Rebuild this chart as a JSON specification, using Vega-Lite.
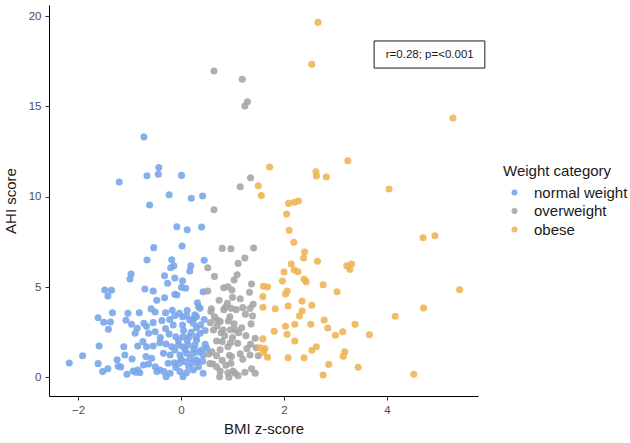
{
  "$schema": "https://vega.github.io/schema/vega-lite/v6.json",
  "width": 429,
  "height": 391,
  "autosize": {"type": "none"},
  "padding": {"left": 49, "top": 5, "right": 152, "bottom": 47},
  "background": "white",
  "config": {
    "view": {"stroke": null},
    "font": "Liberation Sans",
    "axis": {
      "grid": false,
      "domainColor": "#000000",
      "domainWidth": 1,
      "tickColor": "#333333",
      "tickSize": 4,
      "labelFont": "Liberation Sans",
      "labelFontSize": 11.5,
      "labelColor": "#4d4d4d",
      "titleFont": "Liberation Sans",
      "titleFontSize": 15,
      "titleFontWeight": "normal",
      "titleColor": "#1a1a1a"
    },
    "legend": {
      "titleFont": "Liberation Sans",
      "titleFontSize": 15,
      "titleFontWeight": "normal",
      "titleColor": "#1a1a1a",
      "labelFont": "Liberation Sans",
      "labelFontSize": 15,
      "labelColor": "#1a1a1a"
    }
  },
  "datasets": {
    "children": [
      {"weight_category": "normal weight", "bmi_z": -0.72, "ahi": 13.31},
      {"weight_category": "normal weight", "bmi_z": -0.43, "ahi": 11.61},
      {"weight_category": "normal weight", "bmi_z": -0.66, "ahi": 11.16},
      {"weight_category": "normal weight", "bmi_z": -0.44, "ahi": 11.24},
      {"weight_category": "normal weight", "bmi_z": 0.01, "ahi": 11.18},
      {"weight_category": "normal weight", "bmi_z": -1.20, "ahi": 10.81},
      {"weight_category": "normal weight", "bmi_z": -0.23, "ahi": 10.11},
      {"weight_category": "normal weight", "bmi_z": 0.20, "ahi": 9.91},
      {"weight_category": "normal weight", "bmi_z": 0.42, "ahi": 10.04},
      {"weight_category": "normal weight", "bmi_z": -0.61, "ahi": 9.54},
      {"weight_category": "normal weight", "bmi_z": -0.08, "ahi": 8.34},
      {"weight_category": "normal weight", "bmi_z": 0.12, "ahi": 8.17},
      {"weight_category": "normal weight", "bmi_z": 0.40, "ahi": 8.32},
      {"weight_category": "normal weight", "bmi_z": -0.53, "ahi": 7.18},
      {"weight_category": "normal weight", "bmi_z": 0.02, "ahi": 7.27},
      {"weight_category": "normal weight", "bmi_z": -0.66, "ahi": 6.50},
      {"weight_category": "normal weight", "bmi_z": -0.18, "ahi": 6.51},
      {"weight_category": "normal weight", "bmi_z": 0.45, "ahi": 6.48},
      {"weight_category": "normal weight", "bmi_z": -0.14, "ahi": 6.17},
      {"weight_category": "normal weight", "bmi_z": -0.20, "ahi": 6.07},
      {"weight_category": "normal weight", "bmi_z": 0.19, "ahi": 6.17},
      {"weight_category": "normal weight", "bmi_z": 0.17, "ahi": 5.89},
      {"weight_category": "normal weight", "bmi_z": -0.32, "ahi": 5.63},
      {"weight_category": "normal weight", "bmi_z": -0.12, "ahi": 5.50},
      {"weight_category": "normal weight", "bmi_z": -0.26, "ahi": 5.21},
      {"weight_category": "normal weight", "bmi_z": 0.03, "ahi": 5.35},
      {"weight_category": "normal weight", "bmi_z": -0.97, "ahi": 5.72},
      {"weight_category": "normal weight", "bmi_z": -0.99, "ahi": 5.45},
      {"weight_category": "normal weight", "bmi_z": -1.48, "ahi": 4.84},
      {"weight_category": "normal weight", "bmi_z": -1.35, "ahi": 4.82},
      {"weight_category": "normal weight", "bmi_z": -1.42, "ahi": 4.50},
      {"weight_category": "normal weight", "bmi_z": -0.70, "ahi": 4.89},
      {"weight_category": "normal weight", "bmi_z": -0.54, "ahi": 4.78},
      {"weight_category": "normal weight", "bmi_z": 0.01, "ahi": 4.99},
      {"weight_category": "normal weight", "bmi_z": 0.09, "ahi": 4.93},
      {"weight_category": "normal weight", "bmi_z": -0.12, "ahi": 4.60},
      {"weight_category": "normal weight", "bmi_z": -0.08, "ahi": 4.56},
      {"weight_category": "normal weight", "bmi_z": -0.47, "ahi": 4.27},
      {"weight_category": "normal weight", "bmi_z": -0.32, "ahi": 4.41},
      {"weight_category": "normal weight", "bmi_z": 0.32, "ahi": 4.13},
      {"weight_category": "normal weight", "bmi_z": 0.43, "ahi": 4.74},
      {"weight_category": "normal weight", "bmi_z": 0.34, "ahi": 3.91},
      {"weight_category": "normal weight", "bmi_z": -0.58, "ahi": 3.79},
      {"weight_category": "normal weight", "bmi_z": -0.50, "ahi": 3.62},
      {"weight_category": "normal weight", "bmi_z": -0.30, "ahi": 3.58},
      {"weight_category": "normal weight", "bmi_z": -0.17, "ahi": 3.71},
      {"weight_category": "normal weight", "bmi_z": -0.12, "ahi": 3.41},
      {"weight_category": "normal weight", "bmi_z": -0.03, "ahi": 3.55},
      {"weight_category": "normal weight", "bmi_z": 0.03, "ahi": 3.36},
      {"weight_category": "normal weight", "bmi_z": 0.11, "ahi": 3.40},
      {"weight_category": "normal weight", "bmi_z": 0.17, "ahi": 3.18},
      {"weight_category": "normal weight", "bmi_z": 0.25, "ahi": 3.27},
      {"weight_category": "normal weight", "bmi_z": 0.30, "ahi": 3.36},
      {"weight_category": "normal weight", "bmi_z": -0.81, "ahi": 3.58},
      {"weight_category": "normal weight", "bmi_z": -1.03, "ahi": 3.55},
      {"weight_category": "normal weight", "bmi_z": -1.33, "ahi": 3.58},
      {"weight_category": "normal weight", "bmi_z": -1.61, "ahi": 3.30},
      {"weight_category": "normal weight", "bmi_z": -1.50, "ahi": 3.05},
      {"weight_category": "normal weight", "bmi_z": -1.37, "ahi": 3.07},
      {"weight_category": "normal weight", "bmi_z": -1.07, "ahi": 3.16},
      {"weight_category": "normal weight", "bmi_z": -0.96, "ahi": 2.94},
      {"weight_category": "normal weight", "bmi_z": -1.41, "ahi": 2.66},
      {"weight_category": "normal weight", "bmi_z": -0.89, "ahi": 2.44},
      {"weight_category": "normal weight", "bmi_z": -0.85, "ahi": 2.72},
      {"weight_category": "normal weight", "bmi_z": -0.72, "ahi": 2.99},
      {"weight_category": "normal weight", "bmi_z": -0.67, "ahi": 2.83},
      {"weight_category": "normal weight", "bmi_z": -0.54, "ahi": 3.03},
      {"weight_category": "normal weight", "bmi_z": -0.37, "ahi": 3.14},
      {"weight_category": "normal weight", "bmi_z": -0.63, "ahi": 2.44},
      {"weight_category": "normal weight", "bmi_z": -0.50, "ahi": 2.53},
      {"weight_category": "normal weight", "bmi_z": 0.03, "ahi": 2.90},
      {"weight_category": "normal weight", "bmi_z": 0.24, "ahi": 2.99},
      {"weight_category": "normal weight", "bmi_z": 0.30, "ahi": 2.75},
      {"weight_category": "normal weight", "bmi_z": -0.23, "ahi": 2.40},
      {"weight_category": "normal weight", "bmi_z": -0.10, "ahi": 2.25},
      {"weight_category": "normal weight", "bmi_z": 0.04, "ahi": 2.25},
      {"weight_category": "normal weight", "bmi_z": 0.16, "ahi": 2.25},
      {"weight_category": "normal weight", "bmi_z": 0.30, "ahi": 2.25},
      {"weight_category": "normal weight", "bmi_z": 0.37, "ahi": 2.44},
      {"weight_category": "normal weight", "bmi_z": -1.59, "ahi": 1.74},
      {"weight_category": "normal weight", "bmi_z": -1.11, "ahi": 1.70},
      {"weight_category": "normal weight", "bmi_z": -0.84, "ahi": 1.74},
      {"weight_category": "normal weight", "bmi_z": -0.74, "ahi": 1.98},
      {"weight_category": "normal weight", "bmi_z": -0.67, "ahi": 1.70},
      {"weight_category": "normal weight", "bmi_z": -0.54, "ahi": 1.74},
      {"weight_category": "normal weight", "bmi_z": -0.41, "ahi": 1.92},
      {"weight_category": "normal weight", "bmi_z": -0.29, "ahi": 1.85},
      {"weight_category": "normal weight", "bmi_z": -0.18, "ahi": 1.70},
      {"weight_category": "normal weight", "bmi_z": -0.05, "ahi": 1.79},
      {"weight_category": "normal weight", "bmi_z": 0.04, "ahi": 1.70},
      {"weight_category": "normal weight", "bmi_z": 0.14, "ahi": 1.79},
      {"weight_category": "normal weight", "bmi_z": 0.27, "ahi": 1.79},
      {"weight_category": "normal weight", "bmi_z": 0.47, "ahi": 1.83},
      {"weight_category": "normal weight", "bmi_z": 0.40, "ahi": 1.52},
      {"weight_category": "normal weight", "bmi_z": -1.91, "ahi": 1.20},
      {"weight_category": "normal weight", "bmi_z": -1.09, "ahi": 1.24},
      {"weight_category": "normal weight", "bmi_z": -2.17, "ahi": 0.80},
      {"weight_category": "normal weight", "bmi_z": -1.61, "ahi": 0.76},
      {"weight_category": "normal weight", "bmi_z": -1.24, "ahi": 0.98},
      {"weight_category": "normal weight", "bmi_z": -0.95, "ahi": 1.02},
      {"weight_category": "normal weight", "bmi_z": -1.22, "ahi": 0.61},
      {"weight_category": "normal weight", "bmi_z": -1.17, "ahi": 0.58},
      {"weight_category": "normal weight", "bmi_z": -1.42, "ahi": 0.48},
      {"weight_category": "normal weight", "bmi_z": -1.52, "ahi": 0.32},
      {"weight_category": "normal weight", "bmi_z": -0.93, "ahi": 0.35},
      {"weight_category": "normal weight", "bmi_z": -0.88, "ahi": 0.28},
      {"weight_category": "normal weight", "bmi_z": -1.05, "ahi": 0.17},
      {"weight_category": "normal weight", "bmi_z": -0.80, "ahi": 0.26},
      {"weight_category": "normal weight", "bmi_z": -0.73, "ahi": 0.69},
      {"weight_category": "normal weight", "bmi_z": -0.63, "ahi": 0.74},
      {"weight_category": "normal weight", "bmi_z": -0.57, "ahi": 1.06},
      {"weight_category": "normal weight", "bmi_z": -0.68, "ahi": 1.15},
      {"weight_category": "normal weight", "bmi_z": -0.50, "ahi": 0.59},
      {"weight_category": "normal weight", "bmi_z": -0.41, "ahi": 0.41},
      {"weight_category": "normal weight", "bmi_z": -0.47, "ahi": 0.32},
      {"weight_category": "normal weight", "bmi_z": -0.34, "ahi": 1.33},
      {"weight_category": "normal weight", "bmi_z": -0.21, "ahi": 1.24},
      {"weight_category": "normal weight", "bmi_z": -0.12, "ahi": 1.52},
      {"weight_category": "normal weight", "bmi_z": -0.02, "ahi": 1.24},
      {"weight_category": "normal weight", "bmi_z": 0.11, "ahi": 1.33},
      {"weight_category": "normal weight", "bmi_z": 0.24, "ahi": 1.33},
      {"weight_category": "normal weight", "bmi_z": -0.25, "ahi": 0.78},
      {"weight_category": "normal weight", "bmi_z": -0.13, "ahi": 0.81},
      {"weight_category": "normal weight", "bmi_z": -0.03, "ahi": 0.78},
      {"weight_category": "normal weight", "bmi_z": 0.08, "ahi": 0.87},
      {"weight_category": "normal weight", "bmi_z": 0.21, "ahi": 0.78},
      {"weight_category": "normal weight", "bmi_z": 0.32, "ahi": 0.87},
      {"weight_category": "normal weight", "bmi_z": -0.33, "ahi": 0.32},
      {"weight_category": "normal weight", "bmi_z": -0.29, "ahi": 0.04},
      {"weight_category": "normal weight", "bmi_z": -0.21, "ahi": 0.23},
      {"weight_category": "normal weight", "bmi_z": -0.02, "ahi": 0.32},
      {"weight_category": "normal weight", "bmi_z": 0.04, "ahi": 0.04},
      {"weight_category": "normal weight", "bmi_z": 0.11, "ahi": 0.26},
      {"weight_category": "normal weight", "bmi_z": 0.24, "ahi": 0.41},
      {"weight_category": "normal weight", "bmi_z": 0.43, "ahi": 0.23},
      {"weight_category": "normal weight", "bmi_z": 0.34, "ahi": 0.59},
      {"weight_category": "normal weight", "bmi_z": 0.43, "ahi": 1.24},
      {"weight_category": "normal weight", "bmi_z": 0.34, "ahi": 1.40},
      {"weight_category": "normal weight", "bmi_z": -0.84, "ahi": 0.41},
      {"weight_category": "normal weight", "bmi_z": 0.27, "ahi": 3.46},
      {"weight_category": "normal weight", "bmi_z": 0.37, "ahi": 3.82},
      {"weight_category": "normal weight", "bmi_z": 0.50, "ahi": 1.61},
      {"weight_category": "normal weight", "bmi_z": 0.30, "ahi": 0.96},
      {"weight_category": "normal weight", "bmi_z": 0.05, "ahi": 2.60},
      {"weight_category": "normal weight", "bmi_z": 0.20, "ahi": 2.50},
      {"weight_category": "normal weight", "bmi_z": 0.12, "ahi": 2.05},
      {"weight_category": "normal weight", "bmi_z": -0.05, "ahi": 2.05},
      {"weight_category": "normal weight", "bmi_z": 0.30, "ahi": 2.05},
      {"weight_category": "normal weight", "bmi_z": 0.38, "ahi": 2.90},
      {"weight_category": "normal weight", "bmi_z": 0.45, "ahi": 3.20},
      {"weight_category": "normal weight", "bmi_z": -0.15, "ahi": 2.90},
      {"weight_category": "normal weight", "bmi_z": 0.18, "ahi": 1.05},
      {"weight_category": "normal weight", "bmi_z": 0.00, "ahi": 1.00},
      {"weight_category": "normal weight", "bmi_z": -0.10, "ahi": 0.55},
      {"weight_category": "normal weight", "bmi_z": 0.15, "ahi": 0.60},
      {"weight_category": "normal weight", "bmi_z": 0.42, "ahi": 0.90},
      {"weight_category": "normal weight", "bmi_z": 0.08, "ahi": 1.55},
      {"weight_category": "normal weight", "bmi_z": 0.25, "ahi": 1.55},
      {"weight_category": "normal weight", "bmi_z": -0.30, "ahi": 2.70},
      {"weight_category": "normal weight", "bmi_z": -0.40, "ahi": 2.20},
      {"weight_category": "normal weight", "bmi_z": 0.47, "ahi": 2.60},
      {"weight_category": "normal weight", "bmi_z": 0.12, "ahi": 3.70},
      {"weight_category": "normal weight", "bmi_z": -0.22, "ahi": 3.20},
      {"weight_category": "overweight", "bmi_z": 0.64, "ahi": 16.96},
      {"weight_category": "overweight", "bmi_z": 1.19, "ahi": 16.50},
      {"weight_category": "overweight", "bmi_z": 1.29, "ahi": 15.26},
      {"weight_category": "overweight", "bmi_z": 1.24, "ahi": 15.02},
      {"weight_category": "overweight", "bmi_z": 1.35, "ahi": 11.05},
      {"weight_category": "overweight", "bmi_z": 1.15, "ahi": 10.55},
      {"weight_category": "overweight", "bmi_z": 0.64, "ahi": 9.28},
      {"weight_category": "overweight", "bmi_z": 0.80, "ahi": 7.14},
      {"weight_category": "overweight", "bmi_z": 0.97, "ahi": 7.12},
      {"weight_category": "overweight", "bmi_z": 1.41, "ahi": 7.16},
      {"weight_category": "overweight", "bmi_z": 1.24, "ahi": 6.61},
      {"weight_category": "overweight", "bmi_z": 1.11, "ahi": 6.31},
      {"weight_category": "overweight", "bmi_z": 0.52, "ahi": 6.07},
      {"weight_category": "overweight", "bmi_z": 0.65, "ahi": 5.59},
      {"weight_category": "overweight", "bmi_z": 1.09, "ahi": 5.68},
      {"weight_category": "overweight", "bmi_z": 1.03, "ahi": 5.39},
      {"weight_category": "overweight", "bmi_z": 1.37, "ahi": 5.17},
      {"weight_category": "overweight", "bmi_z": 0.83, "ahi": 4.96},
      {"weight_category": "overweight", "bmi_z": 0.91, "ahi": 5.02},
      {"weight_category": "overweight", "bmi_z": 0.99, "ahi": 4.84},
      {"weight_category": "overweight", "bmi_z": 0.52, "ahi": 4.78},
      {"weight_category": "overweight", "bmi_z": 1.33, "ahi": 4.71},
      {"weight_category": "overweight", "bmi_z": 1.00, "ahi": 4.43},
      {"weight_category": "overweight", "bmi_z": 0.74, "ahi": 4.27},
      {"weight_category": "overweight", "bmi_z": 1.40, "ahi": 4.05},
      {"weight_category": "overweight", "bmi_z": 0.59, "ahi": 3.80},
      {"weight_category": "overweight", "bmi_z": 0.58, "ahi": 3.64},
      {"weight_category": "overweight", "bmi_z": 0.83, "ahi": 3.75},
      {"weight_category": "overweight", "bmi_z": 0.86, "ahi": 3.88},
      {"weight_category": "overweight", "bmi_z": 0.97, "ahi": 3.82},
      {"weight_category": "overweight", "bmi_z": 1.07, "ahi": 3.75},
      {"weight_category": "overweight", "bmi_z": 1.20, "ahi": 3.86},
      {"weight_category": "overweight", "bmi_z": 1.34, "ahi": 3.82},
      {"weight_category": "overweight", "bmi_z": 0.70, "ahi": 3.19},
      {"weight_category": "overweight", "bmi_z": 0.76, "ahi": 3.10},
      {"weight_category": "overweight", "bmi_z": 0.57, "ahi": 3.03},
      {"weight_category": "overweight", "bmi_z": 0.95, "ahi": 3.36},
      {"weight_category": "overweight", "bmi_z": 1.03, "ahi": 2.97},
      {"weight_category": "overweight", "bmi_z": 1.36, "ahi": 2.96},
      {"weight_category": "overweight", "bmi_z": 1.39, "ahi": 3.40},
      {"weight_category": "overweight", "bmi_z": 0.92, "ahi": 3.12},
      {"weight_category": "overweight", "bmi_z": 1.18, "ahi": 2.75},
      {"weight_category": "overweight", "bmi_z": 0.63, "ahi": 2.62},
      {"weight_category": "overweight", "bmi_z": 0.82, "ahi": 2.62},
      {"weight_category": "overweight", "bmi_z": 0.78, "ahi": 2.47},
      {"weight_category": "overweight", "bmi_z": 0.96, "ahi": 2.64},
      {"weight_category": "overweight", "bmi_z": 1.06, "ahi": 2.62},
      {"weight_category": "overweight", "bmi_z": 1.12, "ahi": 2.47},
      {"weight_category": "overweight", "bmi_z": 1.26, "ahi": 2.31},
      {"weight_category": "overweight", "bmi_z": 0.80, "ahi": 1.98},
      {"weight_category": "overweight", "bmi_z": 0.91, "ahi": 1.70},
      {"weight_category": "overweight", "bmi_z": 0.96, "ahi": 1.92},
      {"weight_category": "overweight", "bmi_z": 1.10, "ahi": 1.89},
      {"weight_category": "overweight", "bmi_z": 1.28, "ahi": 1.59},
      {"weight_category": "overweight", "bmi_z": 1.35, "ahi": 1.83},
      {"weight_category": "overweight", "bmi_z": 0.60, "ahi": 1.42},
      {"weight_category": "overweight", "bmi_z": 0.54, "ahi": 1.29},
      {"weight_category": "overweight", "bmi_z": 0.76, "ahi": 1.53},
      {"weight_category": "overweight", "bmi_z": 0.94, "ahi": 1.22},
      {"weight_category": "overweight", "bmi_z": 0.98, "ahi": 1.15},
      {"weight_category": "overweight", "bmi_z": 1.46, "ahi": 1.64},
      {"weight_category": "overweight", "bmi_z": 1.50, "ahi": 1.20},
      {"weight_category": "overweight", "bmi_z": 1.44, "ahi": 2.16},
      {"weight_category": "overweight", "bmi_z": 0.69, "ahi": 1.20},
      {"weight_category": "overweight", "bmi_z": 0.62, "ahi": 0.74},
      {"weight_category": "overweight", "bmi_z": 0.69, "ahi": 0.59},
      {"weight_category": "overweight", "bmi_z": 0.87, "ahi": 0.67},
      {"weight_category": "overweight", "bmi_z": 0.97, "ahi": 0.78},
      {"weight_category": "overweight", "bmi_z": 0.76, "ahi": 0.35},
      {"weight_category": "overweight", "bmi_z": 0.75, "ahi": 0.04},
      {"weight_category": "overweight", "bmi_z": 0.91, "ahi": 0.26},
      {"weight_category": "overweight", "bmi_z": 1.01, "ahi": 0.35},
      {"weight_category": "overweight", "bmi_z": 1.05, "ahi": 0.23},
      {"weight_category": "overweight", "bmi_z": 0.93, "ahi": 0.01},
      {"weight_category": "overweight", "bmi_z": 1.11, "ahi": 0.09},
      {"weight_category": "overweight", "bmi_z": 1.24, "ahi": 0.28},
      {"weight_category": "overweight", "bmi_z": 1.37, "ahi": 0.48},
      {"weight_category": "overweight", "bmi_z": 1.44, "ahi": 0.23},
      {"weight_category": "overweight", "bmi_z": 0.56, "ahi": 0.76},
      {"weight_category": "overweight", "bmi_z": 1.34, "ahi": 1.24},
      {"weight_category": "overweight", "bmi_z": 0.69, "ahi": 2.01},
      {"weight_category": "overweight", "bmi_z": 0.70, "ahi": 2.85},
      {"weight_category": "overweight", "bmi_z": 0.85, "ahi": 2.30},
      {"weight_category": "overweight", "bmi_z": 1.00, "ahi": 2.20},
      {"weight_category": "overweight", "bmi_z": 1.15, "ahi": 1.30},
      {"weight_category": "overweight", "bmi_z": 0.80, "ahi": 0.95},
      {"weight_category": "overweight", "bmi_z": 1.20, "ahi": 1.00},
      {"weight_category": "overweight", "bmi_z": 0.65, "ahi": 3.35},
      {"weight_category": "overweight", "bmi_z": 0.90, "ahi": 4.10},
      {"weight_category": "overweight", "bmi_z": 1.15, "ahi": 4.35},
      {"weight_category": "overweight", "bmi_z": 1.25, "ahi": 3.50},
      {"weight_category": "obese", "bmi_z": 2.66, "ahi": 19.65},
      {"weight_category": "obese", "bmi_z": 2.54, "ahi": 17.33},
      {"weight_category": "obese", "bmi_z": 5.28, "ahi": 14.36},
      {"weight_category": "obese", "bmi_z": 1.72, "ahi": 11.64},
      {"weight_category": "obese", "bmi_z": 3.24, "ahi": 11.99},
      {"weight_category": "obese", "bmi_z": 2.62, "ahi": 11.38},
      {"weight_category": "obese", "bmi_z": 2.63, "ahi": 11.15},
      {"weight_category": "obese", "bmi_z": 2.82, "ahi": 11.09},
      {"weight_category": "obese", "bmi_z": 1.50, "ahi": 10.61},
      {"weight_category": "obese", "bmi_z": 1.56, "ahi": 10.06},
      {"weight_category": "obese", "bmi_z": 4.04, "ahi": 10.43},
      {"weight_category": "obese", "bmi_z": 2.09, "ahi": 9.63},
      {"weight_category": "obese", "bmi_z": 2.20, "ahi": 9.69},
      {"weight_category": "obese", "bmi_z": 2.28, "ahi": 9.76},
      {"weight_category": "obese", "bmi_z": 2.05, "ahi": 9.04},
      {"weight_category": "obese", "bmi_z": 2.10, "ahi": 8.14},
      {"weight_category": "obese", "bmi_z": 2.19, "ahi": 7.48},
      {"weight_category": "obese", "bmi_z": 2.40, "ahi": 6.94},
      {"weight_category": "obese", "bmi_z": 2.38, "ahi": 6.61},
      {"weight_category": "obese", "bmi_z": 2.65, "ahi": 6.43},
      {"weight_category": "obese", "bmi_z": 2.14, "ahi": 6.28},
      {"weight_category": "obese", "bmi_z": 2.20, "ahi": 5.94},
      {"weight_category": "obese", "bmi_z": 2.27, "ahi": 5.85},
      {"weight_category": "obese", "bmi_z": 2.00, "ahi": 5.83},
      {"weight_category": "obese", "bmi_z": 2.39, "ahi": 5.43},
      {"weight_category": "obese", "bmi_z": 2.43, "ahi": 5.30},
      {"weight_category": "obese", "bmi_z": 1.97, "ahi": 5.33},
      {"weight_category": "obese", "bmi_z": 1.60, "ahi": 5.04},
      {"weight_category": "obese", "bmi_z": 1.68, "ahi": 5.00},
      {"weight_category": "obese", "bmi_z": 2.06, "ahi": 4.78},
      {"weight_category": "obese", "bmi_z": 2.03, "ahi": 4.62},
      {"weight_category": "obese", "bmi_z": 1.59, "ahi": 4.47},
      {"weight_category": "obese", "bmi_z": 2.35, "ahi": 4.23},
      {"weight_category": "obese", "bmi_z": 2.08, "ahi": 3.95},
      {"weight_category": "obese", "bmi_z": 2.54, "ahi": 3.99},
      {"weight_category": "obese", "bmi_z": 1.59, "ahi": 3.88},
      {"weight_category": "obese", "bmi_z": 1.83, "ahi": 3.80},
      {"weight_category": "obese", "bmi_z": 2.35, "ahi": 3.67},
      {"weight_category": "obese", "bmi_z": 2.30, "ahi": 3.40},
      {"weight_category": "obese", "bmi_z": 2.52, "ahi": 2.94},
      {"weight_category": "obese", "bmi_z": 2.21, "ahi": 2.94},
      {"weight_category": "obese", "bmi_z": 2.03, "ahi": 2.83},
      {"weight_category": "obese", "bmi_z": 2.06, "ahi": 2.39},
      {"weight_category": "obese", "bmi_z": 1.81, "ahi": 2.55},
      {"weight_category": "obese", "bmi_z": 2.21, "ahi": 2.01},
      {"weight_category": "obese", "bmi_z": 1.59, "ahi": 2.13},
      {"weight_category": "obese", "bmi_z": 1.53, "ahi": 1.64},
      {"weight_category": "obese", "bmi_z": 1.63, "ahi": 1.59},
      {"weight_category": "obese", "bmi_z": 1.60, "ahi": 1.39},
      {"weight_category": "obese", "bmi_z": 1.68, "ahi": 1.11},
      {"weight_category": "obese", "bmi_z": 2.08, "ahi": 1.09},
      {"weight_category": "obese", "bmi_z": 2.39, "ahi": 1.09},
      {"weight_category": "obese", "bmi_z": 2.54, "ahi": 1.50},
      {"weight_category": "obese", "bmi_z": 2.63, "ahi": 1.70},
      {"weight_category": "obese", "bmi_z": 4.70, "ahi": 7.73},
      {"weight_category": "obese", "bmi_z": 4.93, "ahi": 7.84},
      {"weight_category": "obese", "bmi_z": 3.22, "ahi": 6.18},
      {"weight_category": "obese", "bmi_z": 3.31, "ahi": 6.28},
      {"weight_category": "obese", "bmi_z": 3.28, "ahi": 5.98},
      {"weight_category": "obese", "bmi_z": 2.76, "ahi": 5.13},
      {"weight_category": "obese", "bmi_z": 3.03, "ahi": 4.74},
      {"weight_category": "obese", "bmi_z": 5.41, "ahi": 4.85},
      {"weight_category": "obese", "bmi_z": 4.71, "ahi": 3.84},
      {"weight_category": "obese", "bmi_z": 4.16, "ahi": 3.38},
      {"weight_category": "obese", "bmi_z": 2.78, "ahi": 3.18},
      {"weight_category": "obese", "bmi_z": 2.85, "ahi": 2.73},
      {"weight_category": "obese", "bmi_z": 3.38, "ahi": 2.94},
      {"weight_category": "obese", "bmi_z": 3.14, "ahi": 2.53},
      {"weight_category": "obese", "bmi_z": 3.00, "ahi": 2.33},
      {"weight_category": "obese", "bmi_z": 3.66, "ahi": 2.36},
      {"weight_category": "obese", "bmi_z": 3.18, "ahi": 1.42},
      {"weight_category": "obese", "bmi_z": 3.15, "ahi": 1.17},
      {"weight_category": "obese", "bmi_z": 2.87, "ahi": 0.72},
      {"weight_category": "obese", "bmi_z": 3.44, "ahi": 0.56},
      {"weight_category": "obese", "bmi_z": 2.76, "ahi": 0.13},
      {"weight_category": "obese", "bmi_z": 4.52, "ahi": 0.17}
    ],
    "correlation": [
      {"label": "r=0.28; p=<0.001", "bmi_z": 4.83, "ahi": 17.87, "x_from": 3.75, "x_to": 5.9, "y_from": 17.12, "y_to": 18.62}
    ]
  },
  "layer": [
    {
      "data": {"name": "children"},
      "mark": {"type": "circle", "size": 50, "opacity": 0.9},
      "encoding": {
        "x": {
          "field": "bmi_z",
          "type": "quantitative",
          "title": "BMI z-score",
          "scale": {"domain": [-2.563, 5.767], "nice": false, "zero": false},
          "axis": {"values": [-2, 0, 2, 4], "labelPadding": 4, "titlePadding": 6}
        },
        "y": {
          "field": "ahi",
          "type": "quantitative",
          "title": "AHI score",
          "scale": {"domain": [-1.03, 20.61], "nice": false, "zero": false},
          "axis": {"values": [0, 5, 10, 15, 20], "labelPadding": 4, "titlePadding": 10}
        },
        "color": {
          "field": "weight_category",
          "type": "nominal",
          "title": "Weight category",
          "scale": {
            "domain": ["normal weight", "overweight", "obese"],
            "range": ["#7aa6ea", "#a6a6a6", "#eeb555"]
          },
          "legend": {
            "orient": "none",
            "legendX": 454,
            "legendY": 159,
            "padding": 0,
            "symbolType": "circle",
            "symbolSize": 36,
            "symbolOffset": 4,
            "labelOffset": 12,
            "rowPadding": 2.5,
            "titlePadding": 6
          }
        }
      }
    },
    {
      "data": {"name": "correlation"},
      "mark": {"type": "rect", "fill": "white", "stroke": "#1a1a1a", "strokeWidth": 1},
      "encoding": {
        "x": {"field": "x_from", "type": "quantitative"},
        "x2": {"field": "x_to"},
        "y": {"field": "y_from", "type": "quantitative"},
        "y2": {"field": "y_to"}
      }
    },
    {
      "data": {"name": "correlation"},
      "mark": {"type": "text", "font": "Liberation Sans", "fontSize": 11.5, "color": "#1a1a1a", "align": "center", "baseline": "middle"},
      "encoding": {
        "x": {"field": "bmi_z", "type": "quantitative"},
        "y": {"field": "ahi", "type": "quantitative"},
        "text": {"field": "label"}
      }
    }
  ]
}
